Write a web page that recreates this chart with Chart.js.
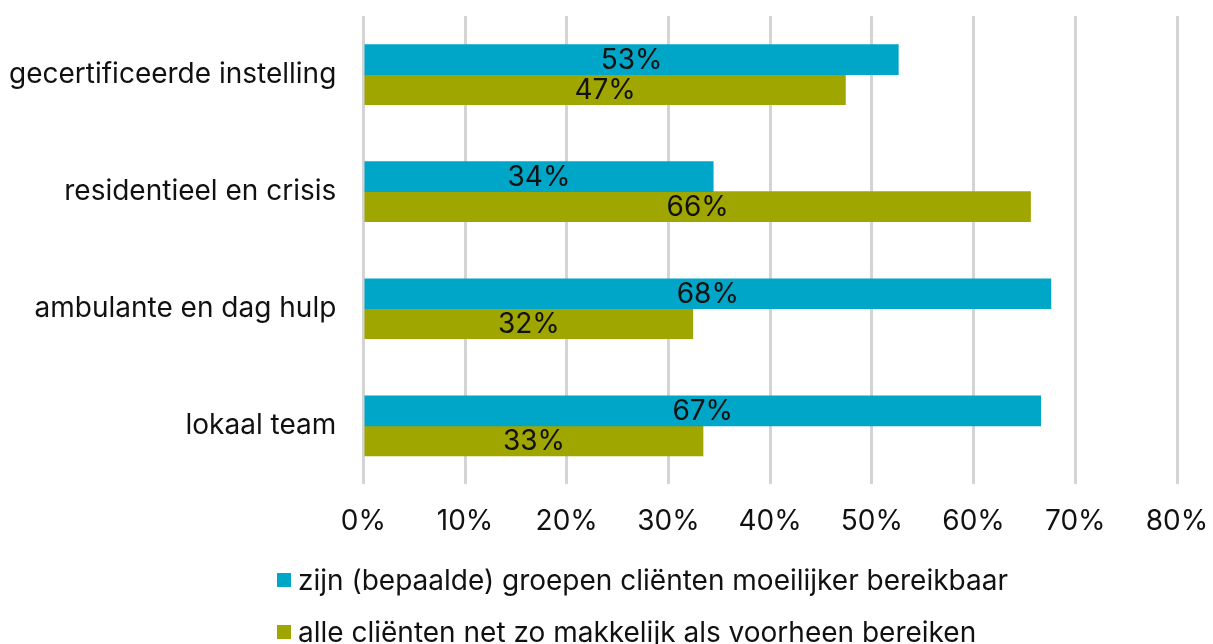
<!DOCTYPE html>
<html>
<head>
<meta charset="utf-8">
<script src="https://cdn.jsdelivr.net/npm/chart.js@4.4.1/dist/chart.umd.min.js"></script>
<style>
  html, body { margin: 0; padding: 0; background: #fff; }
  #wrap { position: relative; width: 1213px; height: 644px; }
  #chart { display: block; }
  #legend { position: absolute; left: 277px; top: 554px; font-family: Inter, sans-serif; font-size: 28px; color: #111; }
  .item { display: flex; align-items: center; height: 52px; }
  .box { width: 14px; height: 14px; margin-right: 7px; }
</style>
</head>
<body>
<div id="wrap">
  <canvas id="chart" width="1213" height="644"></canvas>
  <div id="legend"></div>
</div>
<script>
const categories = ["gecertificeerde instelling", "residentieel en crisis", "ambulante en dag hulp", "lokaal team"]
const seriesNames = [
  "zijn (bepaalde) groepen cliënten moeilijker bereikbaar",
  "alle cliënten net zo makkelijk als voorheen bereiken",
]
const harder = [52.6, 34.4, 67.6, 66.6]
const sameAsBefore = [47.4, 65.6, 32.4, 33.4]
const colors = ["#00a6c8", "#a0a600"]

// draws the value in the middle of each bar
const barLabels = {
  id: "barLabels",
  afterDatasetsDraw(chart) {
    const ctx = chart.ctx
    ctx.save()
    ctx.font = "28px Inter, sans-serif"
    ctx.fillStyle = "#111"
    ctx.textAlign = "center"
    ctx.textBaseline = "middle"
    chart.data.datasets.forEach((ds, i) => {
      chart.getDatasetMeta(i).data.forEach((bar, j) => {
        const x = (bar.base + bar.x) / 2
        ctx.fillText(Math.round(ds.data[j]) + "%", x, bar.y + 1)
      })
    })
    ctx.restore()
  },
}

function drawChart() {
  const canvas = document.getElementById("chart")

  new Chart(canvas, {
    type: "bar",
    data: {
      labels: categories,
      datasets: [
        { label: seriesNames[0], data: harder, backgroundColor: colors[0], barThickness: 30 },
        { label: seriesNames[1], data: sameAsBefore, backgroundColor: colors[1], barThickness: 30 },
      ],
    },
    options: {
      indexAxis: "y",
      responsive: false,
      animation: false,
      layout: { padding: { top: 16, right: 9, bottom: 108, left: 9 } },
      plugins: {
        legend: { display: false },
        tooltip: { enabled: false },
      },
      scales: {
        x: {
          min: 0,
          max: 80,
          border: { display: false },
          grid: { color: "#d4d4d4", lineWidth: 3, drawTicks: false },
          ticks: {
            stepSize: 10,
            padding: 20,
            maxRotation: 0,
            color: "#111",
            font: { family: "Inter, sans-serif", size: 28 },
            callback: (v) => v + "%",
          },
          // trim the extra space chart.js leaves around the tick labels
          afterFit(scale) {
            scale.height -= 22
            scale.paddingRight = 36
          },
        },
        y: {
          border: { display: false },
          grid: { display: false, drawTicks: false },
          ticks: {
            padding: 27,
            color: "#111",
            font: { family: "Inter, sans-serif", size: 28 },
          },
          afterFit(scale) {
            scale.width -= 27
            scale.paddingTop = 0
            scale.paddingBottom = 0
          },
        },
      },
    },
    plugins: [barLabels],
  })

  const legend = document.getElementById("legend")
  seriesNames.forEach((name, i) => {
    const row = document.createElement("div")
    row.className = "item"
    row.innerHTML = `<span class="box" style="background:${colors[i]}"></span><span>${name}</span>`
    legend.appendChild(row)
  })
}

document.fonts.load("28px Inter").then(drawChart, drawChart)
</script>
</body>
</html>
